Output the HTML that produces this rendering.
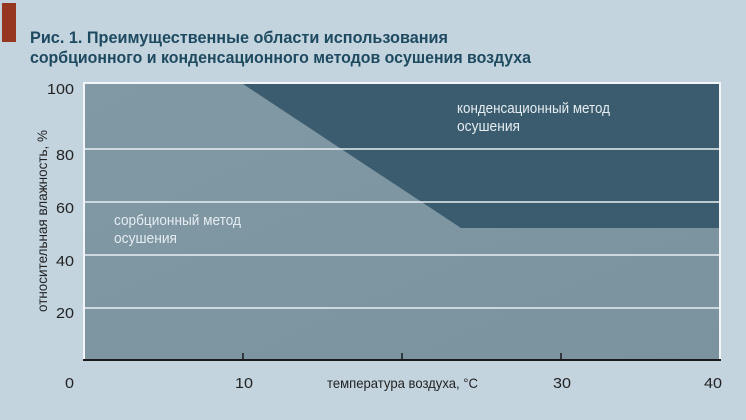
<!DOCTYPE html>
<html><head><meta charset="utf-8"><style>
body{margin:0;width:746px;height:415px;overflow:hidden;background:#c3d4df}
svg text{font-family:"Liberation Sans",sans-serif}
</style></head><body>
<svg width="746" height="415" viewBox="0 0 746 415" xmlns="http://www.w3.org/2000/svg">
<defs>
<linearGradient id="lg" x1="0" y1="0" x2="1" y2="1">
<stop offset="0" stop-color="#8198a5"/><stop offset="1" stop-color="#7b939f"/>
</linearGradient>
</defs>
<rect x="0" y="0" width="746" height="415" fill="#c3d4df"/>
<rect x="2" y="3" width="14" height="39" fill="#963821"/>
<text x="30" y="43" font-size="17" font-weight="bold" fill="#1e4a60" textLength="418" lengthAdjust="spacingAndGlyphs">Рис. 1. Преимущественные области использования</text>
<text x="30" y="63" font-size="17" font-weight="bold" fill="#1e4a60" textLength="501" lengthAdjust="spacingAndGlyphs">сорбционного и конденсационного методов осушения воздуха</text>
<rect x="84" y="83" width="636" height="277" fill="url(#lg)" stroke="#f2f6f8" stroke-width="2"/>
<polygon points="243,84 461,228 719,228 719,84" fill="#3a5c6e"/>
<g stroke="#e8eff3" stroke-width="1.5">
<line x1="85" y1="149" x2="719" y2="149"/>
<line x1="85" y1="202" x2="719" y2="202"/>
<line x1="85" y1="255" x2="719" y2="255"/>
<line x1="85" y1="308" x2="719" y2="308"/>
</g>
<line x1="83" y1="360" x2="721" y2="360" stroke="#1a1a1a" stroke-width="2"/>
<g stroke="#1a1a1a" stroke-width="1.5">
<line x1="243" y1="353" x2="243" y2="360"/>
<line x1="402" y1="353" x2="402" y2="360"/>
<line x1="561" y1="353" x2="561" y2="360"/>
</g>
<g font-size="15" fill="#222" text-anchor="end">
<text x="74" y="94" textLength="27" lengthAdjust="spacingAndGlyphs">100</text>
<text x="74" y="160" textLength="18" lengthAdjust="spacingAndGlyphs">80</text>
<text x="74" y="213" textLength="18" lengthAdjust="spacingAndGlyphs">60</text>
<text x="74" y="266" textLength="18" lengthAdjust="spacingAndGlyphs">40</text>
<text x="74" y="318" textLength="18" lengthAdjust="spacingAndGlyphs">20</text>
</g>
<g font-size="15" fill="#222">
<text x="65" y="388" textLength="9" lengthAdjust="spacingAndGlyphs">0</text>
<text x="235" y="388" textLength="18" lengthAdjust="spacingAndGlyphs">10</text>
<text x="553" y="388" textLength="18" lengthAdjust="spacingAndGlyphs">30</text>
<text x="704" y="388" textLength="18" lengthAdjust="spacingAndGlyphs">40</text>
</g>
<text x="327" y="388" font-size="14" fill="#222" textLength="151" lengthAdjust="spacingAndGlyphs">температура воздуха, °С</text>
<text transform="translate(47,312) rotate(-90)" font-size="14" fill="#222" textLength="182" lengthAdjust="spacingAndGlyphs">относительная влажность, %</text>
<g font-size="15" fill="#e6edf1">
<text x="114" y="225" textLength="127" lengthAdjust="spacingAndGlyphs">сорбционный метод</text>
<text x="114" y="243" textLength="63" lengthAdjust="spacingAndGlyphs">осушения</text>
<text x="457" y="113" textLength="153" lengthAdjust="spacingAndGlyphs">конденсационный метод</text>
<text x="457" y="131" textLength="63" lengthAdjust="spacingAndGlyphs">осушения</text>
</g>
</svg>
</body></html>
